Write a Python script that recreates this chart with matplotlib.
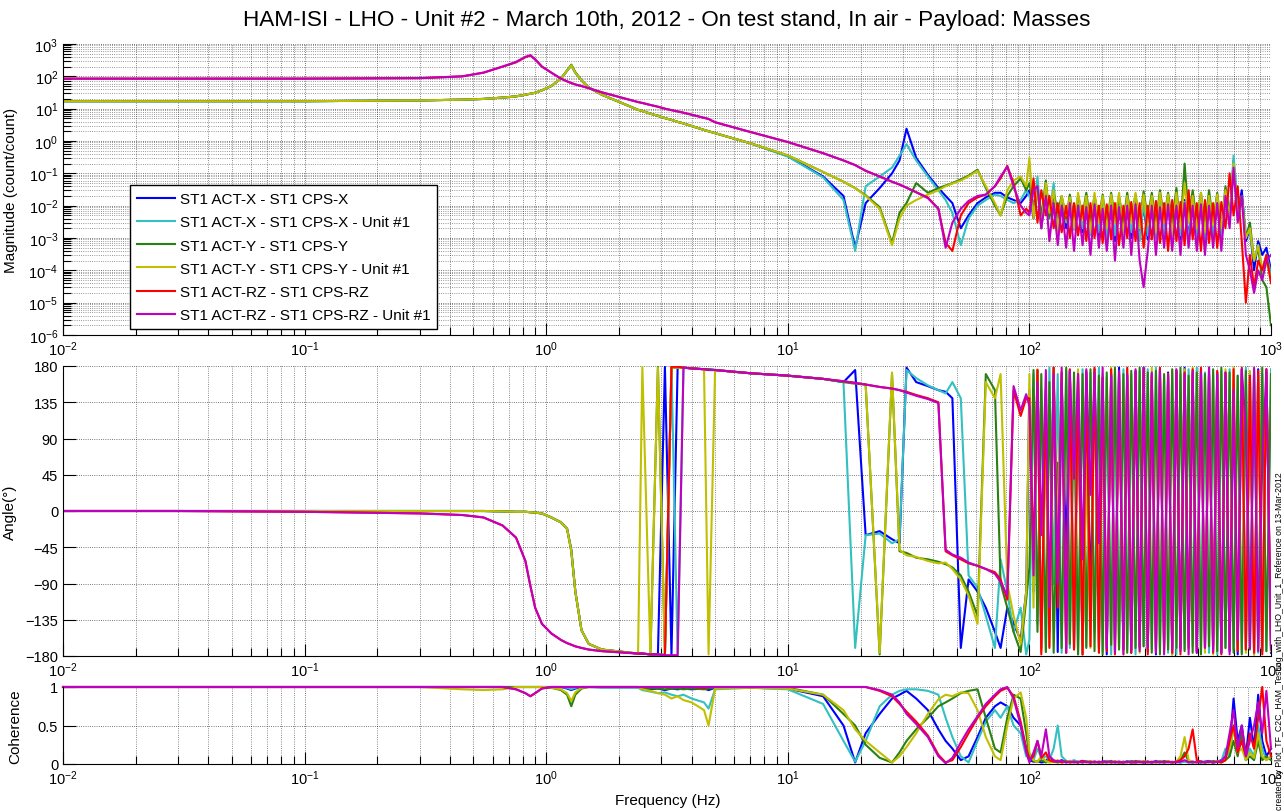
import matplotlib
matplotlib.use("Agg")
import matplotlib.pyplot as plt
from matplotlib.ticker import LogLocator, NullFormatter, FixedLocator

plt.rcParams['font.family'] = ['Liberation Sans', 'DejaVu Sans']
plt.rcParams['mathtext.default'] = 'regular'

# frequency grid (Hz): smooth part, then the noisy high band
freq_lo = [0.01, 0.03, 0.1, 0.3, 0.45, 0.55, 0.66, 0.75, 0.82, 0.86, 0.9, 0.96, 1.05, 1.15, 1.22, 1.27, 1.32, 1.4, 1.5, 1.7,
           2.4, 2.5, 2.7, 2.9, 3.1, 3.3, 3.5, 3.7, 4.0, 4.5, 4.7, 5.0, 7.0, 10,
           14, 17, 19, 21, 24, 27, 29, 31, 34, 38, 42, 45, 48, 52, 56, 61, 66, 72, 76, 81, 86, 92, 97]
freq_hi = [100, 104, 108, 112, 117, 121, 126, 131, 136, 142,
           147, 153, 159, 166, 172, 179, 186, 194, 201, 209,
           218, 226, 235, 245, 254, 264, 275, 286, 297, 309,
           321, 334, 347, 361, 375, 390, 406, 422, 439, 456,
           474, 493, 513, 533, 554, 576, 599, 623, 648, 674,
           700, 728, 757, 787, 818, 851, 885, 920, 957, 1000]

labels = ["ST1 ACT-X - ST1 CPS-X", "ST1 ACT-X - ST1 CPS-X - Unit #1",
          "ST1 ACT-Y - ST1 CPS-Y", "ST1 ACT-Y - ST1 CPS-Y - Unit #1",
          "ST1 ACT-RZ - ST1 CPS-RZ", "ST1 ACT-RZ - ST1 CPS-RZ - Unit #1"]
colors = ['#0000ff', '#33c0c0', '#2a8010', '#c0c000', '#ff0000', '#c000c0']

# magnitude (count/count)
mag_x = [17, 17, 17, 18, 19, 20, 22, 24, 27, 29, 31, 37, 50, 85, 150, 220, 130, 75, 45, 27,
         9.2, 8.5, 7.0, 6.0, 5.1, 4.5, 3.9, 3.5, 2.9, 2.2, 2.0, 1.75, 0.85, 0.34,
         0.08, 0.02, 0.0005, 0.012, 0.035, 0.1, 0.25, 2.4, 0.3, 0.09, 0.035, 0.02, 0.012, 0.002, 0.005, 0.012, 0.018, 0.025, 0.025, 0.018, 0.015, 0.012, 0.02,
         0.03, 0.004, 0.05, 0.002, 0.04, 0.008, 0.02, 0.003, 0.015, 0.002,
         0.012, 0.003, 0.01, 0.0015, 0.012, 0.002, 0.01, 0.001, 0.012, 0.002,
         0.01, 0.0008, 0.011, 0.0015, 0.009, 0.001, 0.012, 0.0012, 0.01, 0.0009,
         0.011, 0.0015, 0.012, 0.001, 0.014, 0.0012, 0.012, 0.0009, 0.015, 0.001,
         0.013, 0.0008, 0.014, 0.0006, 0.012, 0.001, 0.015, 0.0008, 0.02, 0.003,
         0.25, 0.006, 0.03, 0.0008, 0.002, 0.0001, 0.0008, 0.0003, 0.0005, 0.0001]
mag_x1 = [17, 17, 17, 18, 19, 20, 22, 24, 27, 29, 31, 37, 50, 85, 150, 210, 125, 75, 45, 27,
          9.2, 8.5, 7.0, 6.0, 5.1, 4.5, 3.9, 3.5, 2.9, 2.2, 2.0, 1.75, 0.85, 0.33,
          0.075, 0.015, 0.0004, 0.04, 0.08, 0.15, 0.35, 0.8, 0.25, 0.08, 0.03, 0.015, 0.006, 0.0006, 0.004, 0.01, 0.015, 0.022, 0.02, 0.015, 0.012, 0.015, 0.03,
          0.02, 0.006, 0.08, 0.003, 0.03, 0.005, 0.05, 0.002, 0.018, 0.003,
          0.013, 0.0018, 0.011, 0.002, 0.013, 0.0012, 0.012, 0.0015, 0.01, 0.001,
          0.012, 0.0012, 0.01, 0.0009, 0.012, 0.0015, 0.011, 0.0008, 0.012, 0.0012,
          0.01, 0.001, 0.013, 0.0012, 0.012, 0.0009, 0.014, 0.0012, 0.013, 0.0008,
          0.015, 0.001, 0.012, 0.0009, 0.014, 0.0012, 0.013, 0.001, 0.03, 0.004,
          0.35, 0.01, 0.02, 0.0015, 0.0015, 0.0002, 0.0006, 0.0001, 0.0003, 0.00008]
mag_y = [17, 17, 17, 18, 19, 20, 22, 24, 27, 29, 31, 37, 50, 85, 150, 230, 135, 75, 45, 27,
         9.2, 8.5, 7.0, 6.0, 5.1, 4.5, 3.9, 3.5, 2.9, 2.2, 2.0, 1.75, 0.85, 0.36,
         0.11, 0.055, 0.035, 0.021, 0.009, 0.0007, 0.006, 0.012, 0.05, 0.025, 0.035, 0.042, 0.05, 0.065, 0.085, 0.13, 0.035, 0.01, 0.005, 0.02, 0.04, 0.07, 0.03,
         0.05, 0.01, 0.03, 0.005, 0.06, 0.004, 0.025, 0.006, 0.02, 0.004,
         0.022, 0.003, 0.02, 0.005, 0.025, 0.003, 0.02, 0.004, 0.022, 0.0025,
         0.025, 0.004, 0.02, 0.003, 0.025, 0.004, 0.022, 0.003, 0.028, 0.004,
         0.025, 0.003, 0.03, 0.004, 0.025, 0.003, 0.035, 0.002, 0.2, 0.004,
         0.03, 0.003, 0.025, 0.002, 0.03, 0.003, 0.025, 0.002, 0.04, 0.005,
         0.12, 0.006, 0.02, 0.001, 0.003, 0.0002, 0.0005, 0.00005, 0.00003, 0.000002]
mag_y1 = [17, 17, 17, 18, 19, 20, 22, 24, 27, 29, 31, 37, 50, 85, 150, 220, 130, 75, 45, 27,
          9.2, 8.5, 7.0, 6.0, 5.1, 4.5, 3.9, 3.5, 2.9, 2.2, 2.0, 1.75, 0.85, 0.36,
          0.11, 0.055, 0.035, 0.02, 0.008, 0.0006, 0.004, 0.01, 0.015, 0.022, 0.03, 0.04, 0.048, 0.06, 0.08, 0.12, 0.04, 0.012, 0.005, 0.03, 0.06, 0.08, 0.04,
          0.3, 0.004, 0.03, 0.002, 0.05, 0.006, 0.03, 0.0015, 0.02, 0.005,
          0.018, 0.002, 0.025, 0.004, 0.02, 0.0015, 0.025, 0.003, 0.02, 0.002,
          0.022, 0.003, 0.025, 0.0012, 0.02, 0.003, 0.025, 0.002, 0.022, 0.0025,
          0.02, 0.0015, 0.025, 0.003, 0.022, 0.0012, 0.025, 0.002, 0.05, 0.003,
          0.02, 0.002, 0.025, 0.0015, 0.02, 0.0025, 0.022, 0.002, 0.03, 0.004,
          0.2, 0.005, 0.015, 0.001, 0.002, 0.0002, 0.0006, 0.0001, 0.0002, 0.00005]
mag_rz = [85, 85, 85, 88, 100, 130, 200, 270, 390, 440, 340, 200, 130, 85, 70, 62, 56, 50, 43, 32,
          16, 15, 13, 11.5, 10, 9.0, 8.2, 7.5, 6.5, 5.2, 4.8, 3.8, 1.9, 0.93,
          0.42, 0.25, 0.18, 0.12, 0.08, 0.055, 0.045, 0.036, 0.026, 0.018, 0.008, 0.0007, 0.0004, 0.005, 0.012, 0.018, 0.022, 0.04, 0.07, 0.17, 0.05, 0.005, 0.008,
          0.006, 0.07, 0.003, 0.03, 0.005, 0.02, 0.002, 0.012, 0.0015, 0.01,
          0.001, 0.012, 0.0012, 0.01, 0.0008, 0.012, 0.001, 0.01, 0.0007, 0.011,
          0.0009, 0.012, 0.0006, 0.01, 0.001, 0.013, 0.0008, 0.012, 0.0005, 0.01,
          0.0009, 0.014, 0.0007, 0.012, 0.0004, 0.015, 0.0008, 0.013, 0.0006, 0.03,
          0.0009, 0.012, 0.0004, 0.015, 0.0007, 0.012, 0.0005, 0.013, 0.002, 0.1,
          0.005, 0.04, 0.0008, 0.00001, 0.0003, 0.00003, 0.0002, 0.0001, 0.0003, 0.00004]
mag_rz1 = [85, 85, 85, 88, 100, 130, 200, 280, 400, 450, 330, 200, 130, 85, 70, 62, 56, 50, 43, 32,
           16, 15, 13, 11.5, 10, 9.0, 8.2, 7.5, 6.5, 5.2, 4.8, 3.8, 1.9, 0.93,
           0.42, 0.25, 0.18, 0.12, 0.08, 0.055, 0.045, 0.036, 0.026, 0.017, 0.008, 0.0005, 0.003, 0.008, 0.014, 0.02, 0.022, 0.04, 0.08, 0.16, 0.04, 0.01, 0.006,
           0.005, 0.03, 0.04, 0.002, 0.02, 0.0008, 0.012, 0.0006, 0.01, 0.0005,
           0.012, 0.0004, 0.01, 0.0006, 0.009, 0.0003, 0.011, 0.0005, 0.008, 0.0004,
           0.01, 0.0002, 0.009, 0.0005, 0.01, 0.0003, 0.011, 0.0002, 0.00003, 0.0004,
           0.01, 0.0003, 0.009, 0.0005, 0.011, 0.0004, 0.01, 0.0003, 0.012, 0.0005,
           0.01, 0.0004, 0.011, 0.0003, 0.01, 0.0005, 0.012, 0.0004, 0.02, 0.002,
           0.15, 0.003, 0.02, 0.0003, 0.0001, 0.00002, 0.0001, 0.00005, 0.0002, 0.0003]

# phase (degrees)
ph_x = [0, 0, 0, 0, 0, 0, -0.5, -1, -1, -1.5, -2, -3, -8, -14, -22, -48, -100, -148, -165, -172,
        -177, -177, -178, -178, 179, -179, 179, 178, 177, 176, 176, 175, 171, 168,
        164, 160, 175, -30, -25, -35, -40, 178, 160, 155, 150, 148, 140, -170, -85, -100, -120, -150, -170, -120, -140, -160, -100,
        150, -100, 175, -170, 120, -150, 178, -175, 160, -60,
        175, -170, 140, -178, 172, -120, 176, -170, 165, -178,
        170, -160, 178, -172, 168, -176, 174, -168, 178, -174,
        170, -178, 176, -166, 172, -178, 174, -170, 178, -162,
        170, -176, 175, -170, 178, -168, 172, -176, 170, -174,
        150, -178, 176, -172, 170, -178, 176, -174, 172, -176]
ph_x1 = [0, 0, 0, 0, 0, 0, -0.5, -1, -1, -1.5, -2, -3, -8, -14, -22, -48, -100, -148, -165, -172,
         -177, -177, -178, -178, -178, 179, -179, 178, 177, 176, 176, 175, 171, 168,
         164, 160, -170, -30, -28, -40, -35, 175, 165, 156, 150, 146, 160, 140, -80, -95, -130, -170, -60, -100, -150, -120, -178,
         -160, 170, -140, 150, -175, 178, -90, 170, -176, 174,
         -170, 120, -178, 176, -168, 172, -150, 178, -174, 166,
         -178, 172, -170, 176, -172, 170, -178, 174, -168, 176,
         -172, 178, -170, 168, -176, 174, -178, 170, -172, 176,
         -168, 178, -174, 172, -176, 170, -178, 174, -170, 176,
         -172, 168, -176, 178, -170, 174, -176, 170, -174, 176]
ph_y = [0, 0, 0, 0, 0, 0, -0.5, -1, -1, -1.5, -2, -3, -8, -14, -22, -50, -100, -148, -165, -172,
        -177, -177, -178, 179, -179, 178, 178, 178, 177, 176, 176, 175, 171, 168,
        164, 160, 158, 157, -178, 170, -50, -52, -58, -60, -63, -66, -70, -80, -100, -130, 170, 150, -90, -120, -150, -175, -110,
        -70, 175, -150, 170, -175, 160, -176, 60, -170, 178,
        -165, 172, -178, 170, -170, 176, -174, 168, -178, 172,
        -166, 178, -172, 170, -176, 174, -170, 178, -168, 172,
        -176, 174, -178, 170, -172, 176, -170, 178, -174, 168,
        -176, 172, -178, 170, -168, 176, -174, 178, -170, 172,
        -176, 168, -178, 174, -172, 176, -170, 178, -174, 170]
ph_y1 = [0, 0, 0, 0, 0, 0, -0.5, -1, -1, -1.5, -2, -3, -8, -14, -22, -50, -100, -148, -165, -172,
         -177, 179, -179, 178, -178, 179, 178, 178, 177, 176, -178, 175, 171, 168,
         164, 161, 159, 157, -176, 172, -48, -55, -57, -62, -65, -64, -72, -85, -105, -140, 160, 140, 170, -90, -130, -165, -100,
         170, -120, 176, -175, 100, -168, 178, -30, 172, -176,
         168, -172, 176, -178, 60, -170, 174, -176, 170, -168,
         178, -174, 172, -178, 176, -170, 168, -176, 174, -172,
         178, -170, 172, -176, 170, -178, 174, -168, 176, -172,
         178, -170, 174, -176, 168, -178, 172, -174, 176, -170,
         178, -172, 170, -176, 174, -178, 168, -172, 176, -174]
ph_rz = [0, 0, -1, -3, -5, -8, -18, -33, -62, -93, -120, -140, -152, -160, -164, -166, -168, -170, -172, -174,
         -177, -177, -178, -178, -179, 179, 179, 178, 177, 176, 175, 175, 171, 168,
         164, 161, 159, 157, 154, 152, 150, 148, 144, 140, 135, -50, -55, -60, -65, -68, -72, -76, -85, -110, 150, 118, 140,
         140, -60, 175, -178, 150, -170, 178, -120, 172, -176,
         176, -172, 170, -178, 174, -168, 178, -176, 166, -174,
         176, -178, 170, -172, 178, -176, 172, -170, 176, -178,
         168, -174, 178, -172, 170, -176, 174, -178, 172, -170,
         176, -174, 178, -168, 170, -176, 174, -178, 172, -170,
         176, -174, 178, -172, 168, -176, 174, -178, 176, -170]
ph_rz1 = [0, 0, -1, -3, -5, -8, -18, -33, -62, -93, -120, -140, -152, -160, -164, -166, -168, -170, -172, -174,
          -177, -177, -178, -178, -179, -179, -179, 178, 177, 176, 175, 175, 171, 168,
          164, 161, 159, 157, 154, 152, 150, 147, 143, 139, 134, -48, -54, -58, -64, -68, -72, -78, -88, -105, 155, 125, 145,
          130, -80, 160, -30, 175, -120, 170, -90, 178, -176,
          174, 40, 170, -60, 176, 20, 172, -40, 178, -170,
          168, -176, 174, -178, 170, -172, 176, -174, 178, -170,
          172, -176, 174, -178, 168, -172, 176, -174, 170, -178,
          174, -176, 172, -170, 178, -174, 170, -176, 172, -178,
          150, -160, 176, 100, -170, 178, -174, 60, 176, -172]

# coherence
coh_x = [1, 1, 1, 1, 1, 1, 1, 1, 1, 1, 1, 1, 1, 1, 0.98, 0.96, 0.98, 1, 1, 1,
         1, 0.98, 0.97, 0.98, 0.96, 0.98, 0.97, 0.98, 0.97, 0.98, 0.96, 0.99, 0.99, 0.98,
         0.88, 0.5, 0.02, 0.4, 0.65, 0.85, 0.9, 0.95, 0.85, 0.7, 0.45, 0.3, 0.2, 0.05, 0.1, 0.35, 0.6, 0.75, 0.8, 0.75, 0.6, 0.5, 0.2,
         0.05, 0.03, 0.04, 0.02, 0.03, 0.1, 0.04, 0.03, 0.05, 0.02,
         0.04, 0.03, 0.02, 0.04, 0.03, 0.02, 0.03, 0.02, 0.03, 0.04,
         0.02, 0.03, 0.02, 0.03, 0.02, 0.04, 0.02, 0.03, 0.02, 0.03,
         0.02, 0.04, 0.03, 0.02, 0.03, 0.02, 0.03, 0.02, 0.04, 0.03,
         0.02, 0.03, 0.02, 0.03, 0.04, 0.02, 0.03, 0.05, 0.1, 0.2,
         0.85, 0.3, 0.5, 0.1, 0.6, 0.2, 0.9, 0.3, 0.1, 0.2]
coh_x1 = [1, 1, 1, 1, 1, 1, 1, 1, 1, 1, 1, 1, 1, 1, 0.99, 0.97, 0.99, 1, 1, 0.99,
          0.99, 0.96, 0.94, 0.92, 0.93, 0.9, 0.88, 0.9, 0.85, 0.8, 0.72, 0.97, 0.99, 0.97,
          0.78, 0.3, 0.03, 0.3, 0.75, 0.9, 0.95, 0.97, 0.97, 0.95, 0.9, 0.6, 0.35, 0.1, 0.02, 0.3, 0.55, 0.7, 0.6, 0.75, 0.5, 0.4, 0.1,
          0.1, 0.05, 0.2, 0.08, 0.1, 0.05, 0.2, 0.5, 0.1, 0.04,
          0.03, 0.05, 0.03, 0.02, 0.04, 0.03, 0.02, 0.03, 0.02, 0.04,
          0.03, 0.02, 0.03, 0.02, 0.04, 0.03, 0.02, 0.03, 0.02, 0.03,
          0.02, 0.03, 0.04, 0.02, 0.03, 0.02, 0.03, 0.02, 0.03, 0.02,
          0.03, 0.02, 0.04, 0.02, 0.03, 0.02, 0.03, 0.04, 0.2, 0.1,
          0.5, 0.2, 0.3, 0.05, 0.2, 0.1, 0.5, 0.2, 0.05, 0.1]
coh_y = [1, 1, 1, 1, 1, 1, 1, 1, 1, 1, 1, 1, 0.99, 0.96, 0.9, 0.75, 0.9, 0.98, 1, 1,
         1, 0.99, 0.98, 0.98, 0.97, 0.98, 0.98, 0.97, 0.98, 0.97, 0.98, 0.99, 0.99, 0.99,
         0.9, 0.65, 0.5, 0.25, 0.08, 0.02, 0.15, 0.3, 0.45, 0.6, 0.75, 0.8, 0.85, 0.92, 0.95, 0.97, 0.6, 0.2, 0.15, 0.6, 0.9, 0.85, 0.4,
         0.1, 0.04, 0.03, 0.05, 0.02, 0.04, 0.03, 0.02, 0.03, 0.04,
         0.02, 0.03, 0.02, 0.04, 0.03, 0.02, 0.03, 0.02, 0.03, 0.02,
         0.04, 0.02, 0.03, 0.02, 0.03, 0.02, 0.04, 0.03, 0.02, 0.03,
         0.02, 0.03, 0.02, 0.04, 0.03, 0.02, 0.03, 0.05, 0.15, 0.03,
         0.02, 0.03, 0.02, 0.03, 0.02, 0.04, 0.03, 0.02, 0.05, 0.1,
         0.3, 0.1, 0.4, 0.05, 0.1, 0.05, 0.3, 0.05, 0.1, 0.05]
coh_y1 = [1, 1, 1, 1, 0.97, 0.96, 0.97, 1, 1, 1, 1, 1, 0.99, 0.97, 0.92, 0.82, 0.93, 0.99, 1, 1,
          1, 0.97, 0.95, 0.92, 0.9, 0.85, 0.88, 0.83, 0.8, 0.7, 0.5, 0.98, 0.99, 0.98,
          0.9, 0.7, 0.45, 0.3, 0.15, 0.02, 0.1, 0.22, 0.4, 0.65, 0.84, 0.9, 0.88, 0.93, 0.92, 0.7, 0.35, 0.1, 0.05, 0.5, 0.85, 0.93, 0.6,
          0.15, 0.05, 0.03, 0.1, 0.04, 0.02, 0.03, 0.05, 0.02, 0.03,
          0.04, 0.02, 0.03, 0.02, 0.03, 0.04, 0.02, 0.03, 0.02, 0.03,
          0.02, 0.04, 0.02, 0.03, 0.02, 0.03, 0.02, 0.03, 0.04, 0.02,
          0.03, 0.02, 0.03, 0.02, 0.04, 0.02, 0.03, 0.1, 0.35, 0.05,
          0.03, 0.02, 0.03, 0.02, 0.03, 0.02, 0.04, 0.03, 0.08, 0.2,
          0.45, 0.15, 0.2, 0.05, 0.15, 0.08, 0.4, 0.1, 0.05, 0.1]
coh_rz = [1, 1, 1, 1, 1, 1, 1, 0.97, 0.92, 0.88, 0.92, 0.98, 1, 1, 1, 1, 1, 1, 1, 1,
          1, 1, 1, 1, 1, 1, 1, 1, 1, 0.99, 1, 1, 1, 1,
          1, 1, 1, 1, 0.95, 0.88, 0.78, 0.68, 0.55, 0.37, 0.12, 0.02, 0.05, 0.22, 0.4, 0.6, 0.75, 0.88, 0.95, 0.99, 0.88, 0.55, 0.2,
          0.05, 0.1, 0.3, 0.08, 0.15, 0.05, 0.03, 0.04, 0.02, 0.03,
          0.02, 0.03, 0.02, 0.04, 0.02, 0.03, 0.02, 0.03, 0.02, 0.03,
          0.02, 0.03, 0.02, 0.02, 0.03, 0.02, 0.03, 0.02, 0.03, 0.02,
          0.03, 0.02, 0.03, 0.02, 0.03, 0.02, 0.03, 0.05, 0.1, 0.2,
          0.45, 0.05, 0.03, 0.02, 0.03, 0.02, 0.03, 0.02, 0.05, 0.3,
          0.5, 0.15, 0.3, 0.1, 0.4, 0.2, 0.6, 1.0, 0.3, 0.1]
coh_rz1 = [1, 1, 1, 1, 1, 1, 1, 0.97, 0.92, 0.88, 0.92, 0.98, 1, 1, 1, 1, 1, 1, 1, 1,
           1, 1, 1, 1, 1, 1, 1, 1, 1, 1, 1, 1, 1, 1,
           1, 1, 1, 1, 0.96, 0.9, 0.8, 0.65, 0.52, 0.35, 0.1, 0.01, 0.08, 0.28, 0.45, 0.62, 0.78, 0.9, 0.97, 1.0, 0.85, 0.5, 0.15,
           0.02, 0.15, 0.3, 0.1, 0.45, 0.1, 0.05, 0.03, 0.04, 0.02,
           0.03, 0.02, 0.03, 0.02, 0.03, 0.02, 0.03, 0.02, 0.03, 0.02,
           0.03, 0.02, 0.03, 0.02, 0.03, 0.02, 0.02, 0.03, 0.02, 0.03,
           0.02, 0.03, 0.02, 0.03, 0.02, 0.03, 0.02, 0.03, 0.05, 0.02,
           0.03, 0.02, 0.03, 0.02, 0.03, 0.02, 0.03, 0.04, 0.1, 0.4,
           0.7, 0.2, 0.5, 0.1, 0.3, 0.5, 0.8, 0.4, 0.95, 0.2]

freq = freq_lo + freq_hi
mags = [mag_x, mag_x1, mag_y, mag_y1, mag_rz, mag_rz1]
phases = [ph_x, ph_x1, ph_y, ph_y1, ph_rz, ph_rz1]
cohs = [coh_x, coh_x1, coh_y, coh_y1, coh_rz, coh_rz1]

W, H = 1284, 812
fig = plt.figure(figsize=(W / 100, H / 100), dpi=100)
left, width = 63 / W, 1208 / W
ax1 = fig.add_axes([left, (H - 336) / H, width, 291 / H])
ax2 = fig.add_axes([left, (H - 657) / H, width, 290 / H])
ax3 = fig.add_axes([left, (H - 765) / H, width, 77 / H])


def style_axis(ax):
    ax.set_xscale('log')
    ax.set_xlim(1e-2, 1e3)
    ax.xaxis.set_major_locator(LogLocator(base=10, numticks=20))
    ax.xaxis.set_minor_locator(LogLocator(base=10, subs=range(2, 10), numticks=20))
    ax.xaxis.set_minor_formatter(NullFormatter())
    ax.spines['top'].set_visible(False)
    ax.spines['right'].set_visible(False)
    ax.tick_params(which='both', direction='in', top=False, right=False, labelsize=10.5)
    ax.tick_params(which='major', length=9, width=0.8)
    ax.tick_params(which='minor', length=6, width=0.8)
    ax.grid(True, which='major', linestyle=':', color='k', lw=0.6, alpha=0.7)
    ax.grid(True, which='minor', axis='x', linestyle=':', color='k', lw=0.6, alpha=0.6)


for ax in (ax1, ax2, ax3):
    style_axis(ax)

for f_mag, f_ph, f_coh, c, lab in zip(mags, phases, cohs, colors, labels):
    ax1.plot(freq, f_mag, color=c, lw=1.5, label=lab)
    ax2.plot(freq, f_ph, color=c, lw=1.5)
    ax3.plot(freq, f_coh, color=c, lw=1.5, clip_on=False)

# magnitude panel
ax1.set_yscale('log')
ax1.set_ylim(1e-6, 1e3)
ax1.yaxis.set_major_locator(LogLocator(base=10, numticks=20))
ax1.yaxis.set_minor_locator(LogLocator(base=10, subs=range(2, 10), numticks=20))
ax1.yaxis.set_minor_formatter(NullFormatter())
ax1.grid(True, which='minor', axis='y', linestyle=':', color='k', lw=0.6, alpha=0.55)
ax1.set_ylabel('Magnitude (count/count)', fontsize=11)
ax1.yaxis.set_label_coords(-0.037, 0.5)
ax1.legend(loc='lower left', bbox_to_anchor=(0.0555, 0.021), fontsize=11,
           fancybox=False, edgecolor='k', framealpha=1, handlelength=2.5,
           labelspacing=0.6, borderpad=0.45, handletextpad=0.3, borderaxespad=0)

# phase panel
ax2.set_ylim(-180, 180)
ax2.yaxis.set_major_locator(FixedLocator([-180, -135, -90, -45, 0, 45, 90, 135, 180]))
ax2.set_ylabel('Angle(°)', fontsize=11)
ax2.yaxis.set_label_coords(-0.038, 0.5)

# coherence panel
ax3.set_ylim(0, 1)
ax3.yaxis.set_major_locator(FixedLocator([0, 0.5, 1]))
ax3.set_yticklabels(['0', '0.5', '1'])
ax3.set_ylabel('Coherence', fontsize=11)
ax3.yaxis.set_label_coords(-0.034, 0.5)

fig.text(0.519, 0.975, 'HAM-ISI - LHO - Unit #2 - March 10th, 2012 - On test stand, In air - Payload: Masses',
         ha='center', va='center', fontsize=16.2)
fig.text(0.52, 0.014, 'Frequency (Hz)', ha='center', va='center', fontsize=11)
fig.text(0.9968, 0.003, 'created by Plot_TF_C2C_HAM_Testing_with_LHO_Unit_1_Reference on 13-Mar-2012',
         rotation=90, ha='center', va='bottom', fontsize=6.3)

fig.savefig('out.png', dpi=100)
